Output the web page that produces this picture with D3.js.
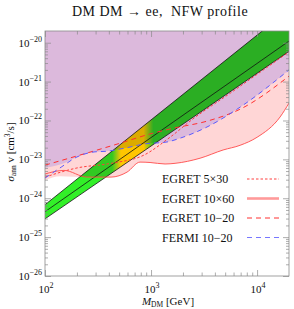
<!DOCTYPE html>
<html>
<head>
<meta charset="utf-8">
<script src="https://cdnjs.cloudflare.com/ajax/libs/d3/7.8.5/d3.min.js"></script>
<style>
  body { margin: 0; background: #fff; }
  text { font-family: "Liberation Serif", "DejaVu Serif", serif; fill: #111; }
</style>
</head>
<body>
<div id="chart"></div>
<script>
// masses in GeV, cross sections in cm^3/s
const massFermi  = [100, 142, 200, 290, 385, 569, 876, 1416, 1878, 3373, 6918, 20000];
const sigmaFermi = [3.3e-24, 6.3e-24, 1.15e-23, 1.55e-23, 1.62e-23, 1.95e-23, 2.5e-23, 2.8e-23, 3.5e-23, 6.8e-23, 2.2e-22, 2.0e-21];

const massE1060  = [100, 151, 249, 420, 594, 787, 979, 1356, 1684, 2900, 4780, 6918, 10000, 16480, 20000];
const sigmaE1060 = [4.2e-24, 5.2e-24, 3.5e-24, 3.5e-24, 4.7e-24, 8.5e-24, 8.3e-24, 7.6e-24, 7.9e-24, 1.07e-23, 1.74e-23, 2.3e-23, 3.7e-23, 1.23e-22, 2.8e-22];

const massE530   = [100, 200, 420, 859, 1510, 2490, 5560, 10670, 20000];
const sigmaE530  = [3.5e-24, 6.0e-24, 7.9e-24, 1.29e-23, 3.7e-23, 1.10e-22, 5.0e-22, 1.74e-21, 5.8e-21];

const massE1020  = [100, 214, 510, 979, 1614, 3373, 6918, 20000];
const sigmaE1020 = [7.1e-24, 1.29e-23, 2.6e-23, 4.5e-23, 6.3e-23, 9.6e-23, 1.95e-22, 1.38e-21];

// lower edges of the shaded excluded regions
const massPurple  = [100, 151, 200, 290, 385, 569, 876, 1416, 1878, 3373, 6918, 20000];
const sigmaPurple = [6.0e-24, 7.9e-24, 1.15e-23, 1.55e-23, 1.62e-23, 1.95e-23, 2.5e-23, 2.8e-23, 3.5e-23, 6.8e-23, 2.2e-22, 2.0e-21];
const massPink    = [100, 139, 249, 420, 594, 787, 979, 1356, 1684, 2900, 4780, 6918, 10000, 16480, 20000];
const sigmaPink   = [2.95e-24, 3.7e-24, 3.5e-24, 3.5e-24, 4.7e-24, 8.5e-24, 8.3e-24, 7.6e-24, 7.9e-24, 1.07e-23, 1.74e-23, 2.3e-23, 3.7e-23, 1.23e-22, 2.8e-22];

// PAMELA-fit band: lower edge, best fit, upper edge
const bandMass  = [100, 20000];
const bandLow   = [2.95e-25, 6.0e-21];
const bandMid   = [4.5e-25, 1.1e-20];
const bandHigh  = [6.8e-25, 7.1e-20];

const xMajor = [100, 1000, 10000];
const xLabels = ["2", "3", "4"];
const yMajor = [1e-26, 1e-25, 1e-24, 1e-23, 1e-22, 1e-21, 1e-20];
const yLabels = ["\u221226", "\u221225", "\u221224", "\u221223", "\u221222", "\u221221", "\u221220"];

const legendNames = ["EGRET 5\u00d730", "EGRET 10\u00d760", "EGRET 10\u221220", "FERMI 10\u221220"];

const W = 294, H = 309;
const margin = {top: 31, right: 5, bottom: 33, left: 45};
const width = W - margin.left - margin.right,
      height = H - margin.top - margin.bottom;

const svg = d3.select("#chart").append("svg")
    .attr("width", W).attr("height", H);

svg.append("defs").append("clipPath").attr("id", "plotclip")
  .append("rect").attr("width", width).attr("height", height);

const g = svg.append("g").attr("transform", `translate(${margin.left},${margin.top})`);

const x = d3.scaleLog().domain([100, 20000]).range([0, width]);
const y = d3.scaleLog().domain([1e-26, 2e-20]).range([height, 0]);

const zip = (m, s) => m.map((d, i) => ({m: d, s: s[i]}));

const plot = g.append("g").attr("clip-path", "url(#plotclip)");

// excluded regions
const areaAbove = d3.area().x(d => x(d.m)).y0(0).y1(d => y(d.s)).curve(d3.curveMonotoneX);
plot.append("path").datum(zip(massPink, sigmaPink))
    .attr("d", areaAbove).attr("fill", "#ffd6d6");
plot.append("path").datum(zip(massPurple, sigmaPurple))
    .attr("d", areaAbove).attr("fill", "#dcb9dc");

// band gradient green -> yellow -> green
const grad = svg.select("defs").append("linearGradient")
    .attr("id", "bandgrad").attr("gradientUnits", "userSpaceOnUse")
    .attr("x1", 0).attr("x2", width).attr("y1", 0).attr("y2", 0);
const gstops = [[100, "#32f028"], [430, "#32f028"], [520, "#ffec00"], [850, "#ffec00"], [1050, "#32f028"], [20000, "#32f028"]];
gstops.forEach(([m, c]) => {
  grad.append("stop").attr("offset", x(m) / width).attr("stop-color", c);
});

const bandData = bandMass.map((m, i) => ({m, lo: bandLow[i], mid: bandMid[i], hi: bandHigh[i]}));
plot.append("path").datum(bandData)
    .attr("d", d3.area().x(d => x(d.m)).y0(d => y(d.lo)).y1(d => y(d.hi)))
    .attr("fill", "url(#bandgrad)")
    .style("mix-blend-mode", "multiply");
["lo", "mid", "hi"].forEach(k => {
  plot.append("path").datum(bandData)
      .attr("d", d3.line().x(d => x(d.m)).y(d => y(d[k])))
      .attr("fill", "none").attr("stroke", "#111").attr("stroke-width", 0.8);
});

// curves
const line = d3.line().x(d => x(d.m)).y(d => y(d.s)).curve(d3.curveMonotoneX);
const curves = [
  {m: massE530,  s: sigmaE530,  color: "#ff3c3c", dash: "2.5,2", w: 1},
  {m: massE1060, s: sigmaE1060, color: "#ff4a4a", dash: null,    w: 0.9},
  {m: massE1020, s: sigmaE1020, color: "#ff3030", dash: "5,4",   w: 1},
  {m: massFermi, s: sigmaFermi, color: "#5a5aff", dash: "5,4",   w: 1}
];
curves.forEach(c => {
  plot.append("path").datum(zip(c.m, c.s))
      .attr("d", line).attr("fill", "none")
      .attr("stroke", c.color).attr("stroke-width", c.w)
      .attr("stroke-dasharray", c.dash);
});

// ticks (inward, all four sides)
const xMinor = [];
[100, 1000, 10000].forEach(d => { for (let k = 2; k <= 9; k++) if (k * d < 20000) xMinor.push(k * d); });
const yMinor = [];
yMajor.slice(0, 6).forEach(d => { for (let k = 2; k <= 9; k++) yMinor.push(k * d); });

const tickColor = "#8a8a8a";
function ticks(axis, vals, size, tr) {
  const a = g.append("g").attr("transform", tr)
      .call(axis.tickValues(vals).tickSize(-size).tickFormat(""));
  a.select(".domain").remove();
  a.selectAll("line").attr("stroke", tickColor).attr("stroke-width", 0.7);
}
ticks(d3.axisBottom(x), xMajor, 6, `translate(0,${height})`);
ticks(d3.axisBottom(x), xMinor, 3.5, `translate(0,${height})`);
ticks(d3.axisTop(x), xMajor, 6, "translate(0,0)");
ticks(d3.axisTop(x), xMinor, 3.5, "translate(0,0)");
ticks(d3.axisLeft(y), yMajor, 6, "translate(0,0)");
ticks(d3.axisLeft(y), yMinor, 3, "translate(0,0)");
ticks(d3.axisRight(y), yMajor, 6, `translate(${width},0)`);
ticks(d3.axisRight(y), yMinor, 3, `translate(${width},0)`);

g.append("rect").attr("width", width).attr("height", height)
    .attr("fill", "none").attr("stroke", tickColor).attr("stroke-width", 0.8);

// tick labels
xMajor.forEach((d, i) => {
  const t = g.append("text").attr("x", x(d) + 1).attr("y", height + 17)
      .attr("text-anchor", "middle").attr("font-size", 11);
  t.append("tspan").text("10");
  t.append("tspan").attr("dy", -5).attr("font-size", 8).text(xLabels[i]);
});
yMajor.forEach((d, i) => {
  const t = g.append("text").attr("x", -3).attr("y", y(d) + 4)
      .attr("text-anchor", "end").attr("font-size", 11);
  t.append("tspan").text("10");
  t.append("tspan").attr("dy", -5).attr("font-size", 8).text(yLabels[i]);
});

// axis titles
const xt = svg.append("text").attr("x", 168).attr("y", 305)
    .attr("text-anchor", "middle").attr("font-size", 11);
xt.append("tspan").attr("font-style", "italic").text("M");
xt.append("tspan").attr("dy", 2).attr("font-size", 7.5).text("DM");
xt.append("tspan").attr("dy", -2).text(" [GeV]");

const yt = svg.append("text").attr("transform", "translate(14,152) rotate(-90)")
    .attr("text-anchor", "middle").attr("font-size", 11);
yt.append("tspan").attr("font-style", "italic").text("\u03c3");
yt.append("tspan").attr("dy", 2).attr("font-size", 7.5).text("ann");
yt.append("tspan").attr("dy", -2).text(" v [cm");
yt.append("tspan").attr("dy", -4).attr("font-size", 7.5).text("3");
yt.append("tspan").attr("dy", 4).text("/s]");

// title
svg.append("text").attr("x", 160).attr("y", 16)
    .attr("text-anchor", "middle").attr("font-size", 14)
    .attr("letter-spacing", 0.5)
    .text("DM DM \u2192 ee,\u00a0 NFW profile");

// legend
const legendY = [183, 202.5, 222, 241.5];
const legendStyle = [
  {color: "#ff4040", dash: "2.5,2", w: 1},
  {color: "#ff9a9a", dash: null, w: 2.6},
  {color: "#ff3030", dash: "5,4", w: 1},
  {color: "#7777ff", dash: "5,4", w: 1.2}
];
legendNames.forEach((n, i) => {
  svg.append("text").attr("x", 162).attr("y", legendY[i])
      .attr("font-size", 12).text(n);
  svg.append("line").attr("x1", 247).attr("x2", 279)
      .attr("y1", legendY[i] - 4).attr("y2", legendY[i] - 4)
      .attr("stroke", legendStyle[i].color).attr("stroke-width", legendStyle[i].w)
      .attr("stroke-dasharray", legendStyle[i].dash);
});
</script>
</body>
</html>
